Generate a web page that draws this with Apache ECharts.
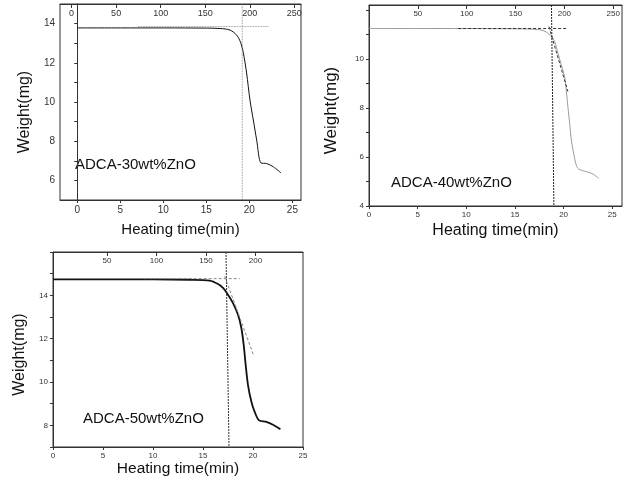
<!DOCTYPE html>
<html>
<head>
<meta charset="utf-8">
<script src="https://cdn.jsdelivr.net/npm/echarts@6/dist/echarts.min.js"></script>
<style>
html, body { margin: 0; padding: 0; background: #fff; }
#main { width: 628px; height: 488px; }
</style>
</head>
<body>
<div id="main"></div>
<script>
// 曲线数据 (heating time / weight) 读自原图
const time30 = [0, 5, 10, 15, 16.6, 17.75, 18.53, 19.0, 19.3, 19.68, 20.07, 20.46, 20.85, 21.35, 22.0, 22.8, 23.68];
const weight30 = [13.78, 13.78, 13.78, 13.77, 13.75, 13.67, 13.41, 13.02, 12.51, 11.48, 10.1, 9.08, 8.06, 6.89, 6.86, 6.69, 6.38];

const time40 = [0, 5, 10, 15, 16.5, 17.54, 18.22, 18.74, 19.08, 19.42, 19.76, 20.1, 20.27, 20.44, 20.62, 20.79, 21.03, 21.3, 21.57, 22.33, 23.0, 23.59];
const weight40 = [11.24, 11.24, 11.24, 11.23, 11.22, 11.19, 11.1, 10.91, 10.71, 10.23, 9.76, 9.28, 8.73, 8.05, 7.38, 6.69, 6.15, 5.67, 5.5, 5.4, 5.31, 5.13];

const time50 = [0, 5, 10, 13.67, 15.67, 16.5, 17.0, 17.5, 18.0, 18.5, 18.84, 19.07, 19.27, 19.5, 19.84, 20.17, 20.6, 21.34, 22.0, 22.74];
const weight50 = [14.74, 14.74, 14.74, 14.72, 14.68, 14.52, 14.34, 14.03, 13.64, 13.1, 12.48, 11.71, 10.78, 9.86, 9.09, 8.62, 8.23, 8.16, 8.03, 7.82];

// 辅助线 (外推基线 / 切线 / 起始点竖线)
const base30 = [[7.06, 13.85], [22.3, 13.85]];
const onset30 = [[19.17, 15], [19.17, 5]];
const base40 = [[9.16, 11.24], [20.44, 11.24]];
const onset40 = [[18.75, 12.2], [19.0, 4]];
const tangent40 = [[18.49, 11.32], [20.44, 8.67]];
const base50 = [[9.07, 14.77], [18.67, 14.77]];
const onset50 = [[17.3, 16], [17.6, 7]];
const tangent50 = [[17.17, 14.88], [20.07, 11.22]];

// 刻度
const timeTicks = [0, 5, 10, 15, 20, 25];
const tempTicks30 = [0, 50, 100, 150, 200, 250];
const tempTicks40 = [50, 100, 150, 200, 250];
const tempTicks50 = [50, 100, 150, 200];
const yLabels30 = [6, 8, 10, 12, 14];
const yTicks30 = [5, 6, 7, 8, 9, 10, 11, 12, 13, 14, 15];
const yLabels40 = [4, 6, 8, 10];
const yTicks40 = [4, 5, 6, 7, 8, 9, 10, 11, 12];
const yLabels50 = [8, 10, 12, 14];
const yTicks50 = [7, 8, 9, 10, 11, 12, 13, 14, 15, 16];

const zip = (xs, ys) => xs.map((x, i) => [x, ys[i]]);
const font = 'Liberation Sans, Arial, sans-serif';
const ink = '#333';

function bottomAxis(grid, min, max, fs, gap, ts) {
  return {
    type: 'value', gridIndex: grid, position: 'bottom', min: min, max: max,
    name: 'Heating time(min)', nameLocation: 'middle', nameGap: gap,
    nameTextStyle: { fontSize: ts, color: '#111', fontFamily: font, verticalAlign: 'top' },
    axisLine: { show: true, lineStyle: { color: ink } },
    axisTick: { show: true, length: 3, lineStyle: { color: ink }, customValues: timeTicks },
    axisLabel: { fontSize: fs, color: ink, fontFamily: font, margin: 5, customValues: timeTicks },
    splitLine: { show: false }
  };
}
function topAxis(grid, min, max, ticks, fs) {
  return {
    type: 'value', gridIndex: grid, position: 'top', min: min, max: max,
    axisLine: { show: true, lineStyle: { color: ink } },
    axisTick: { show: true, inside: true, length: 4, lineStyle: { color: ink }, customValues: ticks },
    axisLabel: { inside: true, fontSize: fs, color: ink, fontFamily: font, margin: 5, customValues: ticks },
    splitLine: { show: false }
  };
}
function leftAxis(grid, min, max, labels, ticks, fs, gap, ts, shift) {
  return {
    type: 'value', gridIndex: grid, min: min, max: max,
    name: 'Weight(mg)', nameLocation: 'middle', nameGap: gap, nameRotate: 90,
    nameTextStyle: { fontSize: ts, color: '#111', fontFamily: font, padding: [0, shift, 0, 0] },
    axisLine: { show: true, lineStyle: { color: ink } },
    axisTick: { show: true, length: 3, lineStyle: { color: ink }, customValues: ticks },
    axisLabel: { fontSize: fs, color: ink, fontFamily: font, margin: 5, customValues: labels },
    splitLine: { show: false }
  };
}
function line(xi, yi, data, color, width, type) {
  return {
    type: 'line', xAxisIndex: xi, yAxisIndex: yi, data: data,
    showSymbol: false, smooth: type ? false : 0.3, silent: true,
    lineStyle: { color: color, width: width, type: type || 'solid' }
  };
}

const option = {
  animation: false,
  grid: [
    { left: 60, top: 4, width: 241, height: 196, show: true, borderColor: ink, borderWidth: 1 },
    { left: 369, top: 5, width: 253, height: 201, show: true, borderColor: ink, borderWidth: 1 },
    { left: 53, top: 252, width: 250, height: 195, show: true, borderColor: ink, borderWidth: 1 }
  ],
  xAxis: [
    bottomAxis(0, -2, 26, 10, 22, 15),
    topAxis(0, -13, 257.5, tempTicks30, 9),
    bottomAxis(1, 0, 26, 8, 17, 16),
    topAxis(1, 0, 259, tempTicks40, 8),
    bottomAxis(2, 0, 25, 8, 13, 15.5),
    topAxis(2, -4.5, 248, tempTicks50, 8)
  ],
  yAxis: [
    leftAxis(0, 5, 15, yLabels30, yTicks30, 10, 27, 16, 20),
    leftAxis(1, 4, 12.2, yLabels40, yTicks40, 8, 29, 17, 10),
    leftAxis(2, 7, 16, yLabels50, yTicks50, 8, 25, 16, 10)
  ],
  series: [
    line(0, 0, zip(time30, weight30), '#111', 1),
    line(0, 0, base30, '#777', 0.8, 'dotted'),
    line(0, 0, onset30, '#777', 0.8, 'dotted'),
    line(2, 1, zip(time40, weight40), '#999', 1),
    line(2, 1, base40, '#333', 1, [3, 2]),
    line(2, 1, onset40, '#222', 1, [2, 1]),
    line(2, 1, tangent40, '#333', 1, [3, 2]),
    line(4, 2, zip(time50, weight50), '#111', 1.8),
    line(4, 2, base50, '#888', 1, [3, 2]),
    line(4, 2, onset50, '#333', 1, [2, 1]),
    line(4, 2, tangent50, '#888', 1, [3, 2])
  ],
  graphic: [
    { type: 'text', left: 75, top: 157, style: { text: 'ADCA-30wt%ZnO', fontSize: 15, fontFamily: font, fill: '#111' } },
    { type: 'text', left: 391, top: 175, style: { text: 'ADCA-40wt%ZnO', fontSize: 15, fontFamily: font, fill: '#111' } },
    { type: 'text', left: 83, top: 411, style: { text: 'ADCA-50wt%ZnO', fontSize: 15, fontFamily: font, fill: '#111' } }
  ]
};

const myChart = echarts.init(document.getElementById('main'));
myChart.setOption(option);
</script>
</body>
</html>
